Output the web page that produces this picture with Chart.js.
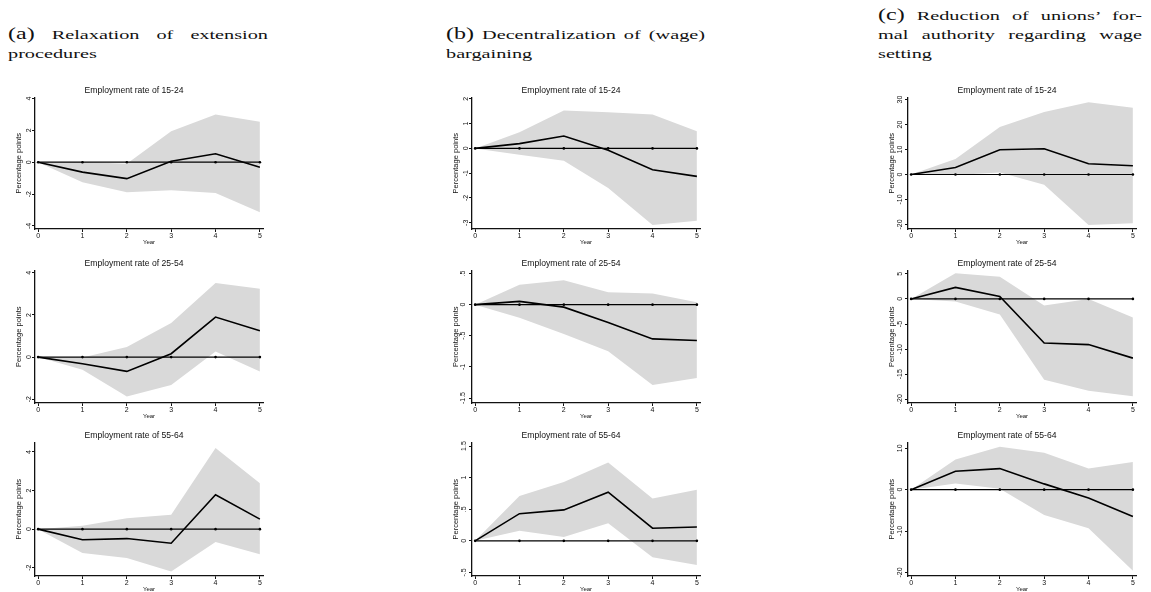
<!DOCTYPE html>
<html>
<head>
<meta charset="utf-8">
<script src="https://cdn.jsdelivr.net/npm/chart.js@4.4.1/dist/chart.umd.min.js"></script>
<style>
  body { margin: 0; background: #fff; width: 1151px; height: 592px; position: relative; overflow: hidden; }
  .cap {
    position: absolute; font-family: "Liberation Serif", serif; font-size: 13.5px; line-height: 19px;
    color: #111; text-align: justify; text-align-last: justify;
    transform-origin: 0 0; transform: scaleX(1.5);
  }
  .cap .lbl { font-size: 16px; }
  canvas { position: absolute; }
</style>
</head>
<body>
<div class="cap" id="capA"><span class="lbl">(a)</span> Relaxation of extension<br>procedures</div>
<div class="cap" id="capB"><span class="lbl">(b)</span> Decentralization of (wage)<br>bargaining</div>
<div class="cap" id="capC"><span class="lbl">(c)</span> Reduction of unions’ for-<br>mal authority regarding wage<br>setting</div>

<script>
// horizon (years after reform)
const years = [0, 1, 2, 3, 4, 5];
const zeros = [0, 0, 0, 0, 0, 0];

// (a) relaxation of extension procedures
const estA1524 = [0, -0.62, -1.03, 0.06, 0.53, -0.32];
const hiA1524  = [0, 0.02, -0.1, 1.95, 3.0, 2.54];
const loA1524  = [0, -1.26, -1.89, -1.76, -1.93, -3.14];
const estA2554 = [0, -0.32, -0.68, 0.16, 1.9, 1.25];
const hiA2554  = [0, -0.02, 0.48, 1.62, 3.52, 3.24];
const loA2554  = [0, -0.6, -1.87, -1.32, 0.27, -0.68];
const estA5564 = [0, -0.55, -0.49, -0.73, 1.78, 0.52];
const hiA5564  = [0, 0.17, 0.57, 0.74, 4.2, 2.38];
const loA5564  = [0, -1.24, -1.5, -2.2, -0.67, -1.3];

// (b) decentralization of (wage) bargaining
const estB1524 = [0, 0.19, 0.5, -0.08, -0.86, -1.13];
const hiB1524  = [0, 0.65, 1.53, 1.46, 1.37, 0.69];
const loB1524  = [0, -0.26, -0.5, -1.6, -3.09, -2.92];
const estB2554 = [0, 0.053, -0.04, -0.285, -0.55, -0.575];
const hiB2554  = [0, 0.32, 0.39, 0.2, 0.18, 0.04];
const loB2554  = [0, -0.21, -0.47, -0.75, -1.29, -1.18];
const estB5564 = [0, 0.43, 0.49, 0.77, 0.2, 0.22];
const hiB5564  = [0, 0.71, 0.93, 1.24, 0.67, 0.81];
const loB5564  = [0, 0.16, 0.06, 0.28, -0.26, -0.38];

// (c) reduction of unions' formal authority
const estC1524 = [0, 2.8, 9.9, 10.3, 4.3, 3.5];
const hiC1524  = [0, 6.2, 19.0, 25.0, 28.9, 26.7];
const loC1524  = [0, -0.2, 0.8, -4.1, -20.2, -19.5];
const estC2554 = [0, 2.3, 0.5, -8.8, -9.1, -11.8];
const hiC2554  = [0, 5.1, 4.4, -1.3, 0, -3.7];
const loC2554  = [0, -0.5, -3.1, -16.1, -18.3, -19.4];
const estC5564 = [0, 4.45, 5.1, 1.4, -2.0, -6.5];
const hiC5564  = [0, 7.3, 10.4, 8.9, 5.1, 6.7];
const loC5564  = [0, 1.5, 0.2, -6.1, -9.3, -19.6];

// y tick labels
const ticksA1524 = [-4, -2, 0, 2, 4];
const ticksA2554 = [-2, 0, 2, 4];
const ticksA5564 = [-2, 0, 2, 4];
const ticksB1524 = [-3, -2, -1, 0, 1, 2];
const ticksB2554 = [-1.5, -1, -0.5, 0, 0.5];
const ticksB5564 = [-0.5, 0, 0.5, 1, 1.5];
const ticksC1524 = [-20, -10, 0, 10, 20, 30];
const ticksC2554 = [-20, -15, -10, -5, 0, 5];
const ticksC5564 = [-20, -10, 0, 10];

const titles = ['Employment rate of 15-24', 'Employment rate of 25-54', 'Employment rate of 55-64'];

// layout of the grid
const colLeft = [35, 472, 908];
const colRight = [263, 700, 1136];
const rowTop = [98, 271, 443];
const rowBottom = [229, 403, 576];
const capScale = 1.5;
const caps = [['capA', 8, 24, 260], ['capB', 446, 24, 259], ['capC', 878, 5, 264]];
caps.forEach(([id, l, t, w]) => {
  const el = document.getElementById(id);
  el.style.left = l + 'px';
  el.style.top = t + 'px';
  el.style.width = (w / capScale) + 'px';
});

const panels = [
  { col: 0, row: 0, est: estA1524, hi: hiA1524, lo: loA1524, ticks: ticksA1524, min: -4.19, max: 4.06 },
  { col: 0, row: 1, est: estA2554, hi: hiA2554, lo: loA2554, ticks: ticksA2554, min: -2.18, max: 4.11 },
  { col: 0, row: 2, est: estA5564, hi: hiA5564, lo: loA5564, ticks: ticksA5564, min: -2.43, max: 4.49 },
  { col: 1, row: 0, est: estB1524, hi: hiB1524, lo: loB1524, ticks: ticksB1524, min: -3.25, max: 2.05 },
  { col: 1, row: 1, est: estB2554, hi: hiB2554, lo: loB2554, ticks: ticksB2554, min: -1.58, max: 0.548 },
  { col: 1, row: 2, est: estB5564, hi: hiB5564, lo: loB5564, ticks: ticksB5564, min: -0.556, max: 1.556 },
  { col: 2, row: 0, est: estC1524, hi: hiC1524, lo: loC1524, ticks: ticksC1524, min: -21.8, max: 30.8 },
  { col: 2, row: 1, est: estC2554, hi: hiC2554, lo: loC2554, ticks: ticksC2554, min: -20.74, max: 5.66 },
  { col: 2, row: 2, est: estC5564, hi: hiC5564, lo: loC5564, ticks: ticksC5564, min: -20.87, max: 11.4 }
];

const sans = 'Liberation Sans, Arial, sans-serif';
const xy = arr => arr.map((v, i) => ({ x: years[i], y: v }));
const fmt = v => String(v).replace(/^(-?)0\./, '$1.');

const Y_W = 30, X_H = 20, T_H = 18, PAD_R = 6;

panels.forEach(p => {
  const cv = document.createElement('canvas');
  const w = colRight[p.col] - colLeft[p.col] + Y_W + PAD_R;
  const h = rowBottom[p.row] - rowTop[p.row] + T_H + X_H;
  cv.width = w; cv.height = h;
  cv.style.left = (colLeft[p.col] - Y_W) + 'px';
  cv.style.top = (rowTop[p.row] - T_H) + 'px';
  cv.style.width = w + 'px'; cv.style.height = h + 'px';
  document.body.appendChild(cv);

  new Chart(cv.getContext('2d'), {
    type: 'line',
    data: {
      datasets: [
        { data: xy(p.est), borderColor: '#000', borderWidth: 1.6, pointRadius: 0, fill: false },
        { data: xy(zeros), borderColor: '#000', borderWidth: 1.2, pointRadius: 1.3,
          pointBackgroundColor: '#000', pointBorderWidth: 0, fill: false },
        { data: xy(p.hi), borderWidth: 0, borderColor: 'rgba(0,0,0,0)', pointRadius: 0,
          backgroundColor: '#d9d9d9', fill: '+1' },
        { data: xy(p.lo), borderWidth: 0, borderColor: 'rgba(0,0,0,0)', pointRadius: 0, fill: false }
      ]
    },
    options: {
      responsive: false,
      animation: false,
      devicePixelRatio: 1,
      layout: { padding: { left: 0, top: 0, right: PAD_R, bottom: 0 } },
      plugins: {
        legend: { display: false },
        tooltip: { enabled: false },
        title: {
          display: true, text: titles[p.row], color: '#111',
          font: { family: sans, size: 8.6, weight: 'normal' },
          padding: { top: 5.6, bottom: 1.6 }
        }
      },
      scales: {
        x: {
          type: 'linear', min: -0.07, max: 5.07,
          afterBuildTicks: s => { s.ticks = years.map(v => ({ value: v })); },
          afterFit: s => { s.height = X_H; },
          grid: { drawOnChartArea: false, drawTicks: true, tickLength: 3, color: '#111', lineWidth: 1 },
          border: { display: true, color: '#111', width: 1.3 },
          ticks: { font: { family: sans, size: 7 }, color: '#111', padding: 0, maxRotation: 0, autoSkip: false },
          title: { display: true, text: 'Year', color: '#111', font: { family: sans, size: 6 }, padding: { top: 0, bottom: 2.7 } }
        },
        y: {
          min: p.min, max: p.max,
          afterBuildTicks: s => { s.ticks = p.ticks.map(v => ({ value: v })); },
          afterFit: s => { s.width = Y_W; },
          grid: { drawOnChartArea: false, drawTicks: true, tickLength: 3, color: '#111', lineWidth: 1 },
          border: { display: true, color: '#111', width: 1.3 },
          ticks: { font: { family: sans, size: 7 }, color: '#111', padding: 0, minRotation: 90, maxRotation: 90,
                   crossAlign: 'center', autoSkip: false, callback: v => fmt(v) },
          title: { display: true, text: 'Percentage points', color: '#111', font: { family: sans, size: 7.5 },
                   padding: { top: 9, bottom: 0 } }
        }
      }
    }
  });
});
</script>
</body>
</html>
